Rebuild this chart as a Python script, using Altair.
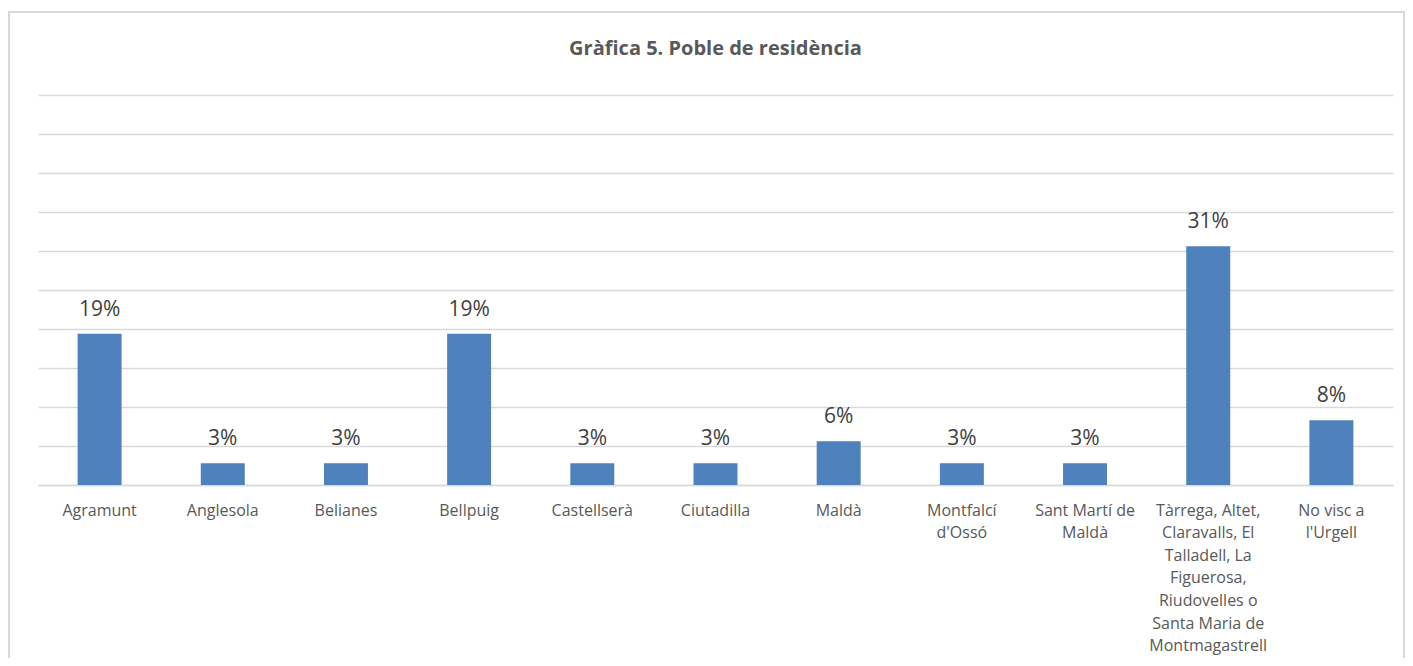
import altair as alt
import pandas as pd

title_text = ["Gràfica 5. Poble de residència"]
categories = [
    "Agramunt", "Anglesola", "Belianes", "Bellpuig", "Castellserà",
    "Ciutadilla", "Maldà", "Montfalcí|d'Ossó", "Sant Martí de|Maldà",
    "Tàrrega, Altet,|Claravalls, El|Talladell, La|Figuerosa,|Riudovelles o|Santa Maria de|Montmagastrell",
    "No visc a|l'Urgell",
]
values = [0.194, 0.028, 0.028, 0.194, 0.028, 0.028, 0.056, 0.028, 0.028, 0.306, 0.083]
grid_values = [0, 0.05, 0.10, 0.15, 0.20, 0.25, 0.30, 0.35, 0.40, 0.45, 0.50]

df = pd.DataFrame({"poble": categories, "pct": values})
df_title = pd.DataFrame({"t": title_text})

FONT = "Open Sans"

x = alt.X(
    "poble:N", sort=None, title=None,
    scale=alt.Scale(paddingInner=0.643, paddingOuter=0.3215),
    axis=alt.Axis(
        labelAngle=0, labelExpr="split(datum.value, '|')", labelFont=FONT,
        labelFontSize=16, labelColor="#595959", labelLineHeight=22.6,
        labelPadding=17, labelBaseline="top", labelLimit=200, ticks=False, tickSize=0,
        domain=True, domainColor="#d9d9d9", domainWidth=1.5, grid=False,
    ),
)
y = alt.Y(
    "pct:Q", title=None,
    scale=alt.Scale(domain=[0, 0.5], nice=False),
    axis=alt.Axis(values=grid_values, labels=False, ticks=False, domain=False,
                  grid=True, gridColor="#d9d9d9", gridWidth=1.5),
)

base = alt.Chart(df)

frame = base.mark_rect(fillOpacity=0, stroke="#d9d9d9", strokeWidth=1.5).encode(
    x=alt.value(-29), x2=alt.value(1366), y=alt.value(-83), y2=alt.value(700)
)

bars = base.mark_bar(color="#4f81bd").encode(x=x, y=y)
labels = base.mark_text(
    font=FONT, fontSize=21, color="#404040", baseline="alphabetic", dy=-18
).encode(x=x, y=y, text=alt.Text("pct:Q", format=".0%"))

title = alt.Chart(df_title).mark_text(
    font=FONT, fontSize=20, fontWeight="bold", color="#595959",
    baseline="alphabetic", align="center",
).encode(text="t:N", x=alt.value(677.5), y=alt.value(-40))

chart = alt.layer(frame, bars, labels, title).properties(
    width=1355, height=390,
    autosize=alt.AutoSizeParams(type="none"),
    padding={"left": 30, "top": 87, "right": 12, "bottom": 173},
).configure_view(stroke=None)

chart.save("out.html", embed_options={"renderer": "svg", "actions": False})
